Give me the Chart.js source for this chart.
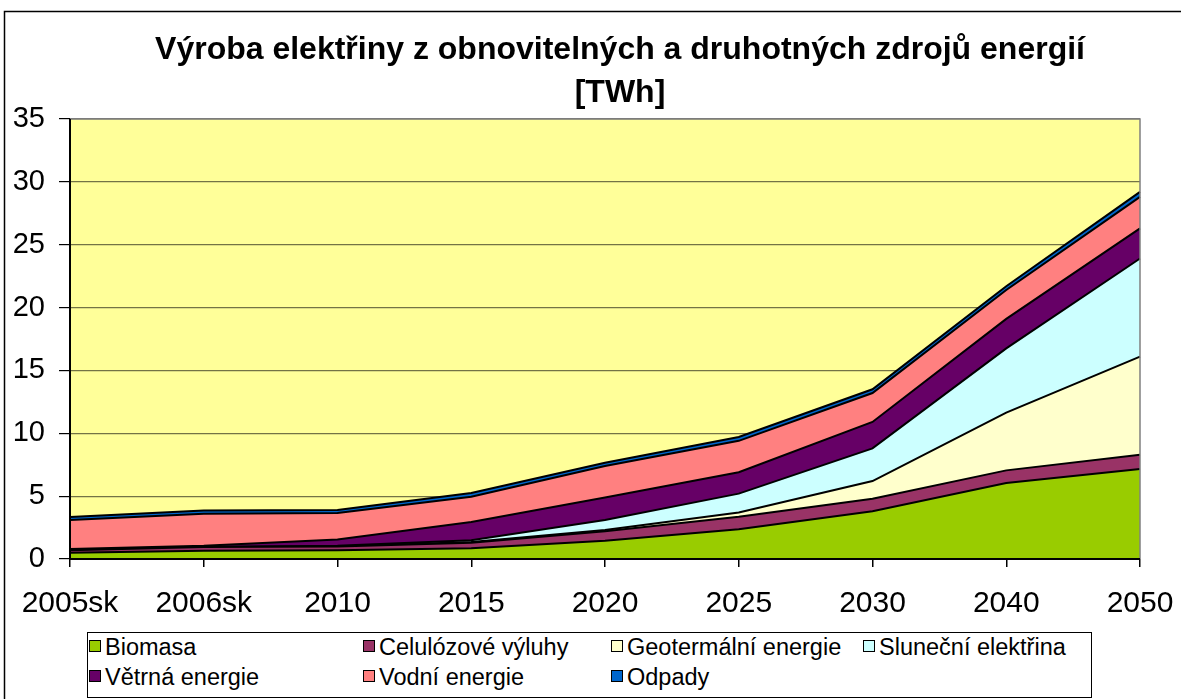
<!DOCTYPE html>
<html>
<head>
<meta charset="utf-8">
<script src="https://cdn.jsdelivr.net/npm/chart.js@4.4.0/dist/chart.umd.min.js"></script>
<style>
  html, body { margin: 0; padding: 0; background: #fff; overflow: hidden; }
  #wrap { position: relative; width: 1181px; height: 699px; overflow: hidden; }
  #c { position: absolute; left: 0; top: 0; }
  #legend { position: absolute; left: 87px; top: 632px; width: 1005px; height: 66px;
            border: 1px solid #000; box-sizing: border-box; background: #fff;
            font-family: "Liberation Sans", Arial, sans-serif; font-size: 23.5px; color: #000; }
  .li { position: absolute; white-space: nowrap; line-height: 24px; height: 24px; }
  .sw { position: absolute; left: 0; top: 5px; width: 10px; height: 10px; border: 1.5px solid #000; }
  .tx { position: absolute; left: 16px; top: 0; }
</style>
</head>
<body>
<div id="wrap">
  <canvas id="c" width="1240" height="699"></canvas>
  <div id="legend"></div>
</div>
<script>
const categories = ['2005sk','2006sk','2010','2015','2020','2025','2030','2040','2050'];
const biomasa     = [0.5, 0.65, 0.7, 0.85, 1.45, 2.37, 3.8, 6.05, 7.15];
const celulozove  = [0.2, 0.3, 0.3, 0.45, 0.75, 1.0, 1.0, 1.0, 1.15];
const geotermalni = [0, 0, 0, 0.05, 0.1, 0.33, 1.4, 4.6, 7.8];
const slunecni    = [0, 0, 0.05, 0.15, 0.8, 1.5, 2.6, 5.1, 7.8];
const vetrna      = [0.1, 0.1, 0.5, 1.45, 1.8, 1.7, 2.1, 2.35, 2.4];
const vodni       = [2.3, 2.55, 2.1, 2.0, 2.5, 2.5, 2.3, 2.3, 2.5];
const odpady      = [0.25, 0.25, 0.25, 0.3, 0.25, 0.3, 0.3, 0.3, 0.4];

const seriesNames  = ['Biomasa','Celulózové výluhy','Geotermální energie','Sluneční elektřina','Větrná energie','Vodní energie','Odpady'];
const seriesData   = [biomasa, celulozove, geotermalni, slunecni, vetrna, vodni, odpady];
const seriesColors = ['#99CC00','#993366','#FFFFCC','#CCFFFF','#660066','#FF8080','#0066CC'];
const yTicks = [0,5,10,15,20,25,30,35];
const titleLines = ['Výroba elektřiny z obnovitelných a druhotných zdrojů energií','[TWh]'];

const FONT = '"Liberation Sans", Arial, sans-serif';

const datasets = seriesData.map((d, i) => ({
  label: seriesNames[i],
  data: d,
  backgroundColor: seriesColors[i],
  borderColor: '#000',
  borderWidth: 2,
  fill: i === 0 ? 'origin' : '-1',
  pointRadius: 0,
  tension: 0,
  yAxisID: 'y'
}));

const framePlugin = {
  id: 'frame',
  beforeDraw(chart) {
    const ctx = chart.ctx, a = chart.chartArea;
    ctx.save();
    ctx.fillStyle = '#fff';
    ctx.fillRect(0, 0, chart.width, chart.height);
    ctx.strokeStyle = '#000';
    ctx.lineWidth = 1.5;
    ctx.strokeRect(4.5, 11.5, chart.width + 20, chart.height + 20);
    ctx.fillStyle = '#FFFF99';
    ctx.fillRect(a.left, a.top, a.right - a.left, a.bottom - a.top);
    ctx.restore();
  },
  afterDatasetsDraw(chart) {
    const ctx = chart.ctx, a = chart.chartArea;
    ctx.save();
    ctx.strokeStyle = '#808080';
    ctx.lineWidth = 1.5;
    ctx.beginPath();
    ctx.moveTo(a.left, a.top); ctx.lineTo(a.right, a.top); ctx.lineTo(a.right, a.bottom);
    ctx.stroke();
    ctx.strokeStyle = '#000';
    ctx.lineWidth = 2;
    ctx.beginPath();
    ctx.moveTo(a.left, a.top); ctx.lineTo(a.left, a.bottom); ctx.lineTo(a.right, a.bottom);
    ctx.stroke();
    ctx.restore();
  }
};

new Chart(document.getElementById('c'), {
  type: 'line',
  data: { labels: categories, datasets },
  options: {
    responsive: false,
    animation: false,
    layout: { padding: { left: 0, right: 0, top: 0, bottom: 0 } },
    plugins: {
      legend: { display: false },
      tooltip: { enabled: false },
      title: {
        display: true,
        text: titleLines,
        color: '#000',
        font: { family: FONT, size: 32, weight: 'bold', lineHeight: 43/32 },
        padding: { top: 29, bottom: 4 }
      }
    },
    scales: {
      x: {
        offset: false,
        grid: { drawOnChartArea: false, drawTicks: true, tickLength: 8, tickColor: '#000', lineWidth: 1.5 },
        border: { display: false },
        ticks: { color: '#000', font: { family: FONT, size: 30 }, padding: 19, maxRotation: 0, autoSkip: false },
        afterFit(s) { s.height = 140; }
      },
      y: {
        stacked: true,
        min: 0, max: 35,
        afterBuildTicks(s) { s.ticks = yTicks.map(v => ({ value: v })); },
        grid: { color: 'rgba(0,0,0,0.55)', lineWidth: 1.2, tickLength: 11, tickColor: '#000' },
        border: { display: false },
        ticks: { color: '#000', font: { family: FONT, size: 29 }, padding: 14 },
        afterFit(s) { s.width = 70; }
      },
      y2: {
        position: 'right',
        display: true,
        grid: { display: false },
        border: { display: false },
        ticks: { display: false },
        afterFit(s) { s.width = 100; }
      }
    }
  },
  plugins: [framePlugin]
});

// Legend (HTML) built from series arrays
const legendCols = [1, 275, 523, 775];
const legendOrder = [[0,1,2,3],[4,5,6]];
const legendEl = document.getElementById('legend');
legendOrder.forEach((row, r) => {
  row.forEach((si, c) => {
    const it = document.createElement('div');
    it.className = 'li';
    it.style.left = legendCols[c] + 'px';
    it.style.top = (2 + r * 30) + 'px';
    const sw = document.createElement('div');
    sw.className = 'sw';
    sw.style.background = seriesColors[si];
    const tx = document.createElement('div');
    tx.className = 'tx';
    tx.textContent = seriesNames[si];
    it.appendChild(sw); it.appendChild(tx);
    legendEl.appendChild(it);
  });
});
</script>
</body>
</html>
